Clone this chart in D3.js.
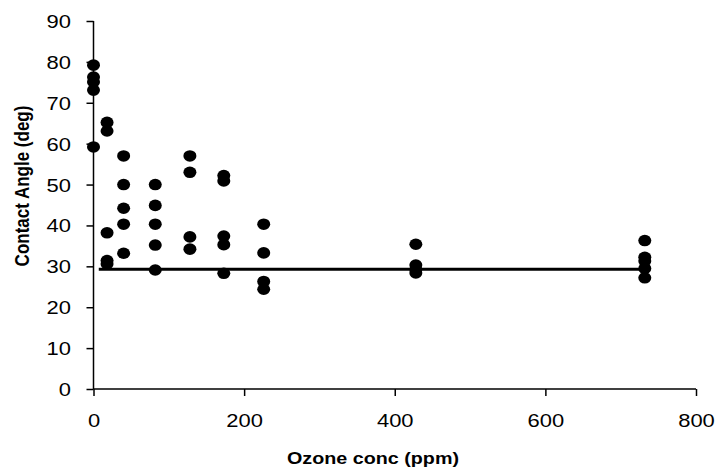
<!DOCTYPE html>
<html lang="en">
<head>
    <meta charset="UTF-8">
    <title>Contact Angle vs Ozone</title>
    <script src="https://d3js.org/d3.v7.min.js"></script>
    <style>
        body { margin: 0; background: #fff; }
        .tick text { font-family: "Liberation Sans", Arial, sans-serif; font-size: 18px; fill: #000; }
        .title { font-family: "Liberation Sans", Arial, sans-serif; font-size: 17px; font-weight: bold; }
    </style>
</head>
<body>
<svg width="717" height="469"></svg>
<script>
    // ozone concentration (ppm) for each measurement group
    var ozone = [0, 18, 40, 82, 128, 173, 226, 428, 732];
    // contact angles (deg) measured at each concentration
    var angles = [
        [79.2, 76.3, 75.1, 73.1, 59.2],
        [65.2, 63.1, 38.2, 31.4, 30.6],
        [57.0, 50.0, 44.2, 40.3, 33.2],
        [50.0, 44.9, 40.3, 35.2, 29.1],
        [57.0, 53.0, 37.2, 34.2],
        [52.2, 50.9, 37.4, 35.3, 28.3],
        [40.3, 33.3, 26.3, 24.4],
        [35.4, 30.3, 29.2, 28.4],
        [36.3, 32.2, 31.3, 29.5, 27.2]
    ];
    var baseline = [[7, 29.3], [732, 29.3]];
    var xTicks = [0, 200, 400, 600, 800];
    var yTicks = [0, 10, 20, 30, 40, 50, 60, 70, 80, 90];

    var svg = d3.select("svg");
    var stretch = 1.22; // the original picture is a bit wider than tall

    var x = d3.scaleLinear().domain([0, 800]).range([93.5, 696]),
        y = d3.scaleLinear().domain([0, 90]).range([389, 21]);

    var points = [];
    ozone.forEach(function(c, i) {
        angles[i].forEach(function(a) { points.push({x: c, y: a}); });
    });

    var xAxis = svg.append("g")
        .attr("transform", "translate(0,389)")
        .call(d3.axisBottom(x).tickValues(xTicks).tickSize(7).tickPadding(18));

    var yAxis = svg.append("g")
        .attr("transform", "translate(93.5,0)")
        .call(d3.axisLeft(y).tickValues(yTicks).tickSize(7).tickPadding(15.5));

    [xAxis, yAxis].forEach(function(a) {
        a.select(".domain").attr("stroke", "#000").attr("stroke-width", 1.5);
        a.selectAll(".tick line").attr("stroke", "#000").attr("stroke-width", 1.5);
        a.selectAll(".tick text").attr("transform", "scale(" + stretch + ",1)");
    });
    xAxis.select(".domain").attr("d", "M93.5,0H696");
    yAxis.select(".domain").attr("d", "M0,21V389");
    yAxis.selectAll(".tick text").attr("dy", "0.36em").attr("x", -22.5 / stretch);

    svg.append("path")
        .datum(baseline)
        .attr("fill", "none")
        .attr("stroke", "#000")
        .attr("stroke-width", 3)
        .attr("d", d3.line().x(function(d) { return x(d[0]); }).y(function(d) { return y(d[1]); }));

    svg.selectAll(".pt")
        .data(points)
        .enter().append("ellipse")
        .attr("class", "pt")
        .attr("cx", function(d) { return x(d.x); })
        .attr("cy", function(d) { return y(d.y); })
        .attr("rx", 6.5)
        .attr("ry", 5.8)
        .attr("fill", "#000");

    svg.append("text")
        .attr("class", "title")
        .attr("transform", "translate(373,464) scale(1.16,1)")
        .attr("text-anchor", "middle")
        .text("Ozone conc (ppm)");

    svg.append("text")
        .attr("class", "title")
        .attr("transform", "translate(29,186) scale(1.2,1) rotate(-90)")
        .attr("text-anchor", "middle")
        .text("Contact Angle (deg)");
</script>
</body>
</html>
